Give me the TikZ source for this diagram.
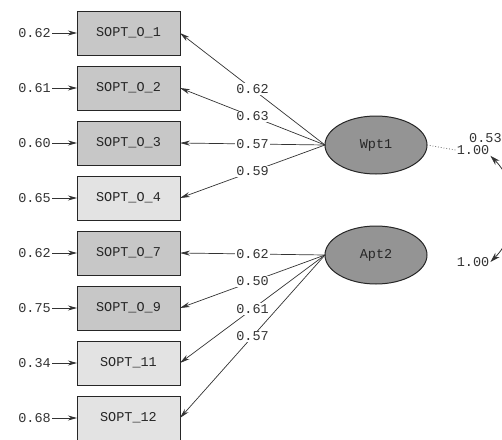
\documentclass[tikz,border=0pt]{standalone}
\usepackage{fontspec}
\usepackage{xcolor}
\usepackage{tikz}
\usetikzlibrary{positioning,arrows.meta,shapes.geometric}

\newfontfamily\lisfont{Liberation Mono}

\begin{document}
\begin{tikzpicture}[
    x=1pt, y=-1pt,
    font=\lisfont\fontsize{13.5}{15}\selectfont,
    obsbox/.style={rectangle, draw=black!85, line width=1pt, minimum height=44pt, minimum width=103pt, outer sep=0pt, fill=black!22, text=black!85},
    lightbox/.style={obsbox, fill=black!11},
    latent/.style={ellipse, draw=black!85, line width=1pt, minimum height=58pt, minimum width=102pt, outer sep=0pt, fill=black!42, text=black!85},
    errlab/.style={inner sep=1pt, text=black!80},
    loadlab/.style={fill=white, inner sep=1pt, text=black!80},
    arr/.style={-{Stealth[length=10pt, width=5pt]}, line width=0.7pt, draw=black!80},
    errarr/.style={-{Stealth[length=9pt, width=5pt]}, line width=0.8pt, draw=black!80},
    covarr/.style={{Stealth[length=10pt, width=6pt]}-{Stealth[length=10pt, width=6pt]}, line width=0.8pt, draw=black!80},
    node distance=11pt
]
\useasboundingbox (0,0) rectangle (502,439);

% ============================================================
% OBSERVED ITEMS
% ============================================================
\node[obsbox] (b1) at (128.5,33) {SOPT\_O\_1};
\node[obsbox,   below=of b1] (b2) {SOPT\_O\_2};
\node[obsbox,   below=of b2] (b3) {SOPT\_O\_3};
\node[lightbox, below=of b3] (b4) {SOPT\_O\_4};
\node[obsbox,   below=of b4] (b7) {SOPT\_O\_7};
\node[obsbox,   below=of b7] (b9) {SOPT\_O\_9};
\node[lightbox, below=of b9] (b11) {SOPT\_11};
\node[lightbox, below=of b11] (b12) {SOPT\_12};

% error variances
\node[errlab, left=25pt of b1]  (e1)  {0.62};
\node[errlab, left=25pt of b2]  (e2)  {0.61};
\node[errlab, left=25pt of b3]  (e3)  {0.60};
\node[errlab, left=25pt of b4]  (e4)  {0.65};
\node[errlab, left=25pt of b7]  (e7)  {0.62};
\node[errlab, left=25pt of b9]  (e9)  {0.75};
\node[errlab, left=25pt of b11] (e11) {0.34};
\node[errlab, left=25pt of b12] (e12) {0.68};

\foreach \i in {1,2,3,4,7,9,11,12}
    \draw[errarr] (e\i.east) -- (b\i.west);

% ============================================================
% LATENT FACTORS
% ============================================================
\node[latent] (f1) at (376,145) {Wpt1};
\node[latent] (f2) at (376,255) {Apt2};

\node[errlab] (v1) at (473,150) {1.00};
\node[errlab] (v2) at (473,262) {1.00};
\node[errlab, inner sep=0pt, anchor=west] (r12) at (469,138) {0.53};

% loadings
\draw[arr] (f1.west) -- node[loadlab] {0.62} (b1.east);
\draw[arr] (f1.west) -- node[loadlab] {0.63} (b2.east);
\draw[arr] (f1.west) -- node[loadlab] {0.57} (b3.east);
\draw[arr] (f1.west) -- node[loadlab] {0.59} (b4.east);

\draw[arr] (f2.west) -- node[loadlab] {0.62} (b7.east);
\draw[arr] (f2.west) -- node[loadlab] {0.50} (b9.east);
\draw[arr] (f2.west) -- node[loadlab] {0.61} (b11.east);
\draw[arr] (f2.west) -- node[loadlab] {0.57} (b12.east);

% factor variance and covariance
\draw[dotted, line width=0.8pt, black!60] (f1.east) -- (v1.west);
\draw[covarr] (v1.south east) to[out=-45, in=45] (v2.east);

\end{tikzpicture}
\end{document}
